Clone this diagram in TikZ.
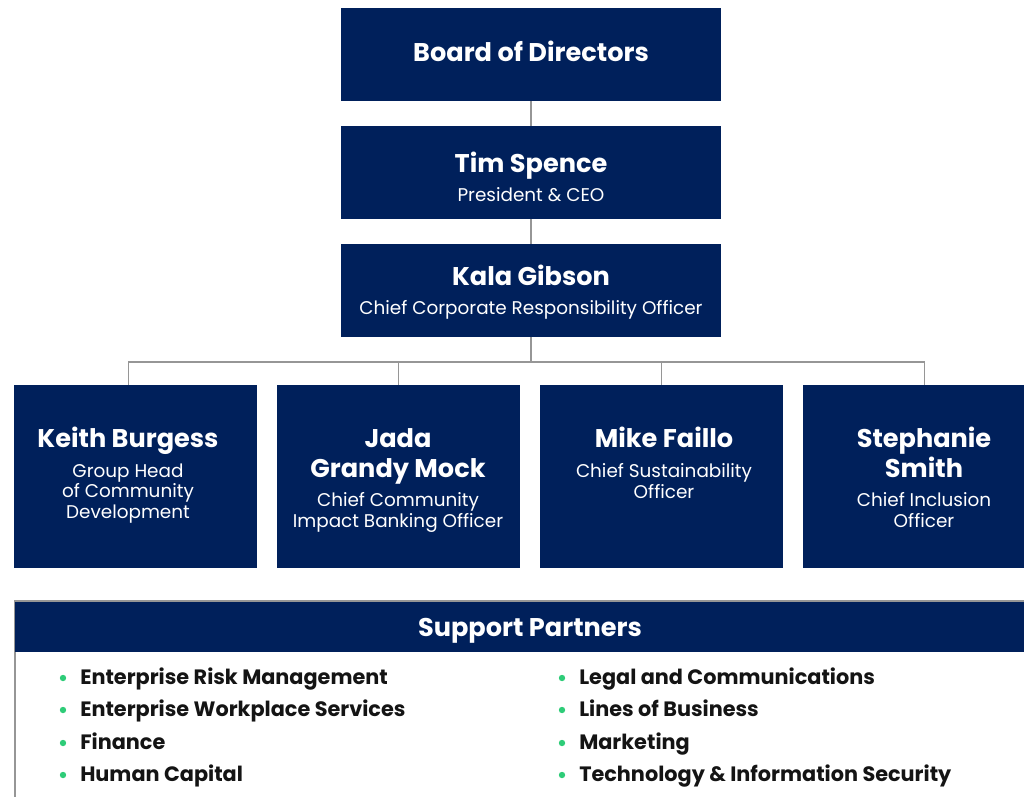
\documentclass[tikz,border=0pt]{standalone}
\usepackage{fontspec}
\setmainfont{Poppins}
\usetikzlibrary{fit}
\definecolor{navy}{RGB}{0,32,91}
\definecolor{conngray}{RGB}{150,150,150}
\definecolor{bulletgreen}{RGB}{46,204,120}
\definecolor{listtext}{RGB}{20,20,20}
\tikzset{
  box/.style={fill=navy, draw=none, inner sep=0pt},
  conn/.style={draw=conngray, line width=1.2pt},
  nm/.style={text=white, font=\fontsize{19.2}{22.5}\selectfont\bfseries, align=center, inner sep=0pt, anchor=base},
  sub/.style={text=white, font=\fontsize{13.8}{15.4}\selectfont, align=center, inner sep=0pt, anchor=base},
  item/.style={text=listtext, font=\fontsize{15.6}{17}\selectfont\bfseries, anchor=base west, inner sep=0pt},
  dot/.style={circle, fill=bulletgreen, inner sep=0pt, minimum size=4.8pt},
}
\begin{document}
\begin{tikzpicture}[x=0.75pt,y=-0.75pt]
\useasboundingbox (0,0) rectangle (1024,796);
\clip (0,0) rectangle (1024,796);
% top boxes
\node[box, fit={(341,8) (721,101)}] (board) {};
\node[box, fit={(341,126) (721,219)}] (tim) {};
\node[box, fit={(341,244) (721,337)}] (kala) {};
% bottom boxes
\node[box, fit={(14,385) (257,568)}] (keith) {};
\node[box, fit={(277,385) (520,568)}] (jada) {};
\node[box, fit={(540,385) (783,568)}] (mike) {};
\node[box, fit={(803,385) (1046,568)}] (steph) {};
% connectors
\draw[conn] (board.south) -- (tim.north);
\draw[conn] (tim.south) -- (kala.north);
\draw[conn] (kala.south) -- ++(0,24.5) coordinate (bus);
\draw[conn] (bus) -| ([xshift=-5.4pt]keith.north);
\draw[conn] (bus) -| (jada.north);
\draw[conn] (bus) -| (mike.north);
\draw[conn] (bus) -| (steph.north);
% texts
\node[nm] (tBoard) at (531,61) {Board of Directors};
\node[nm] (tTim) at (531,172) {Tim Spence};
\node[sub] (sTim) at (531,201.5) {President \& CEO};
\node[nm] (tKala) at (531,285) {Kala Gibson};
\node[sub] (sKala) at (531,314.5) {Chief Corporate Responsibility Officer};
\node[nm] (tKeith) at (128,447) {Keith Burgess};
\node[sub] (sKeith) at (128,518.5) {Group Head\\of Community\\Development};
\node[nm] (tJada) at (398,477) {Jada\\Grandy Mock};
\node[sub] (sJada) at (398,527.5) {Chief Community\\Impact Banking Officer};
\node[nm] (tMike) at (664,447) {Mike Faillo};
\node[sub] (sMike) at (664,498.5) {Chief Sustainability\\Officer};
\node[nm] (tSteph) at (924,477) {Stephanie\\Smith};
\node[sub] (sSteph) at (924,527.5) {Chief Inclusion\\Officer};
% support partners
\node[fit={(15,601) (1060,820)}, draw=conngray, line width=1.2pt, inner sep=0pt] (panel) {};
\node[box, fit={(15,602) (1060,652)}] (band) {};
\node[nm] (tSupport) at (530,636) {Support Partners};
\node[dot] (b1) at (63,678) {};
\node[item] (i1) at (80,684) {Enterprise Risk Management};
\node[dot] (b2) at (63,710) {};
\node[item] (i2) at (80,716) {Enterprise Workplace Services};
\node[dot] (b3) at (63,743) {};
\node[item] (i3) at (80,749) {Finance};
\node[dot] (b4) at (63,775) {};
\node[item] (i4) at (80,781) {Human Capital};
\node[dot] (b5) at (562,678) {};
\node[item] (i5) at (579,684) {Legal and Communications};
\node[dot] (b6) at (562,710) {};
\node[item] (i6) at (579,716) {Lines of Business};
\node[dot] (b7) at (562,743) {};
\node[item] (i7) at (579,749) {Marketing};
\node[dot] (b8) at (562,775) {};
\node[item] (i8) at (579,781) {Technology \& Information Security};
\end{tikzpicture}
\end{document}
